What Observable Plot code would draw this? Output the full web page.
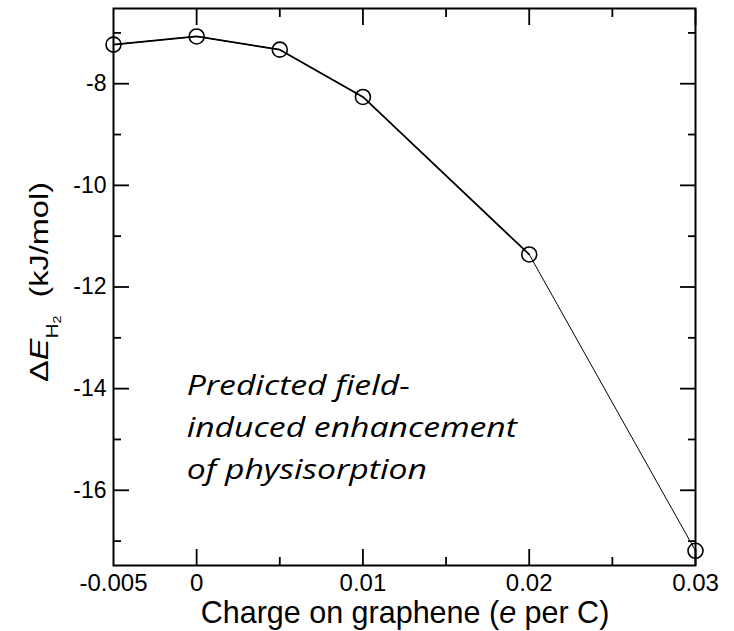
<!DOCTYPE html>
<html><head><meta charset="utf-8">
<script src="https://cdn.jsdelivr.net/npm/d3@7"></script>
<script src="https://cdn.jsdelivr.net/npm/@observablehq/plot@0.6"></script>
<style>body{margin:0;background:#fff}</style>
</head><body><div id="chart"></div>
<script>
const charge = [-0.005, 0, 0.005, 0.01, 0.02, 0.03];
const deltaE = [-7.23, -7.07, -7.33, -8.26, -11.36, -17.19];
const xMajorTicks = [0, 0.01, 0.02, 0.03];
const xMinorTicks = [0.005, 0.015, 0.025];
const xTickLabels = [-0.005, 0, 0.01, 0.02, 0.03];
const yMajorTicks = [-16, -14, -12, -10, -8];
const yMinorTicks = [-17, -15, -13, -11, -9, -7];
const annotationLines = ["Predicted field-", "induced enhancement", "of physisorption"];

const data = charge.map((c, i) => ({charge: c, dE: deltaE[i]}));
const fmt = d => String(d);
const tickStroke = 1.8;

const plot = Plot.plot({
  width: 734, height: 631,
  marginLeft: 113, marginRight: 39, marginTop: 8, marginBottom: 66,
  x: {domain: [-0.005, 0.03]},
  y: {domain: [-17.48, -6.52]},
  style: {fontFamily: "'Liberation Sans', Arial, sans-serif", color: "black", background: "white"},
  marks: [
    // inward ticks on all four sides
    Plot.axisX({anchor: "bottom", ticks: xMajorTicks, tickSize: -16, tickFormat: () => "", label: null, strokeWidth: tickStroke}),
    Plot.axisX({anchor: "bottom", ticks: xMinorTicks, tickSize: -8, tickFormat: () => "", label: null, strokeWidth: tickStroke}),
    Plot.axisX({anchor: "top", ticks: xMajorTicks, tickSize: -16, tickFormat: () => "", label: null, strokeWidth: tickStroke}),
    Plot.axisX({anchor: "top", ticks: xMinorTicks, tickSize: -8, tickFormat: () => "", label: null, strokeWidth: tickStroke}),
    Plot.axisY({anchor: "left", ticks: yMajorTicks, tickSize: -16, tickFormat: () => "", label: null, strokeWidth: tickStroke}),
    Plot.axisY({anchor: "left", ticks: yMinorTicks, tickSize: -8, tickFormat: () => "", label: null, strokeWidth: tickStroke}),
    Plot.axisY({anchor: "right", ticks: yMajorTicks, tickSize: -16, tickFormat: () => "", label: null, strokeWidth: tickStroke}),
    Plot.axisY({anchor: "right", ticks: yMinorTicks, tickSize: -8, tickFormat: () => "", label: null, strokeWidth: tickStroke}),
    // tick labels
    Plot.axisX({anchor: "bottom", ticks: xTickLabels, tickSize: 0, tickPadding: 8, tickFormat: fmt, label: null, fontSize: 24}),
    Plot.axisY({anchor: "left", ticks: yMajorTicks, tickSize: 0, tickPadding: 7, tickFormat: fmt, label: null, fontSize: 23}),
    Plot.frame({stroke: "black", strokeWidth: 2}),
    // data
    Plot.line(data, {x: "charge", y: "dE", stroke: "black", strokeWidth: 1}),
    Plot.line(data.slice(0, 5), {x: "charge", y: "dE", stroke: "black", strokeWidth: 1.7}),
    Plot.dot(data, {x: "charge", y: "dE", r: 7.5, stroke: "black", strokeWidth: 1.6, fill: "none"}),
    // annotation
    Plot.text([{x: -0.0006, y: -14.69, t: annotationLines.join("\n")}], {
      x: "x", y: "y", text: "t", textAnchor: "start", lineAnchor: "middle", lineHeight: 1.545,
      fontSize: 27, fontFamily: "'Open Sans', 'Noto Sans', sans-serif", fontStyle: "italic", fill: "black",
      ariaLabel: "annotation"
    })
  ]
});

const svg = d3.select(plot);
// widen the annotation glyphs horizontally (the reference face is a wide humanist italic)
svg.selectAll('g[aria-label="text"] text').each(function() {
  const t = d3.select(this);
  const tr = t.attr("transform") || "";
  const x = +t.attr("x") || 0, y = +t.attr("y") || 0;
  t.attr("x", null).attr("y", null).attr("transform", `${tr} translate(${x},${y}) scale(1.25,1)`);
});

const yl = svg.append("text")
  .attr("transform", "translate(48,282) rotate(-90) scale(1.3,1)")
  .attr("text-anchor", "middle")
  .attr("font-family", "'Liberation Sans', Arial, sans-serif")
  .attr("font-size", 25).attr("fill", "black");
yl.append("tspan").text("\u0394");
yl.append("tspan").attr("font-style", "italic").text("E");
yl.append("tspan").attr("font-size", 16).attr("dy", 9.5).text("H");
yl.append("tspan").attr("font-size", 11).attr("dy", 4).text("2");
yl.append("tspan").attr("dy", -13.5).text("\u00a0 (kJ/mol)");

const xl = svg.append("text")
  .attr("x", 405).attr("y", 623)
  .attr("text-anchor", "middle")
  .attr("font-family", "'Liberation Sans', Arial, sans-serif")
  .attr("font-size", 30.5).attr("fill", "black");
xl.append("tspan").text("Charge on graphene (");
xl.append("tspan").attr("font-style", "italic").text("e");
xl.append("tspan").text(" per C)");

document.getElementById("chart").append(plot);
</script>
</body></html>
